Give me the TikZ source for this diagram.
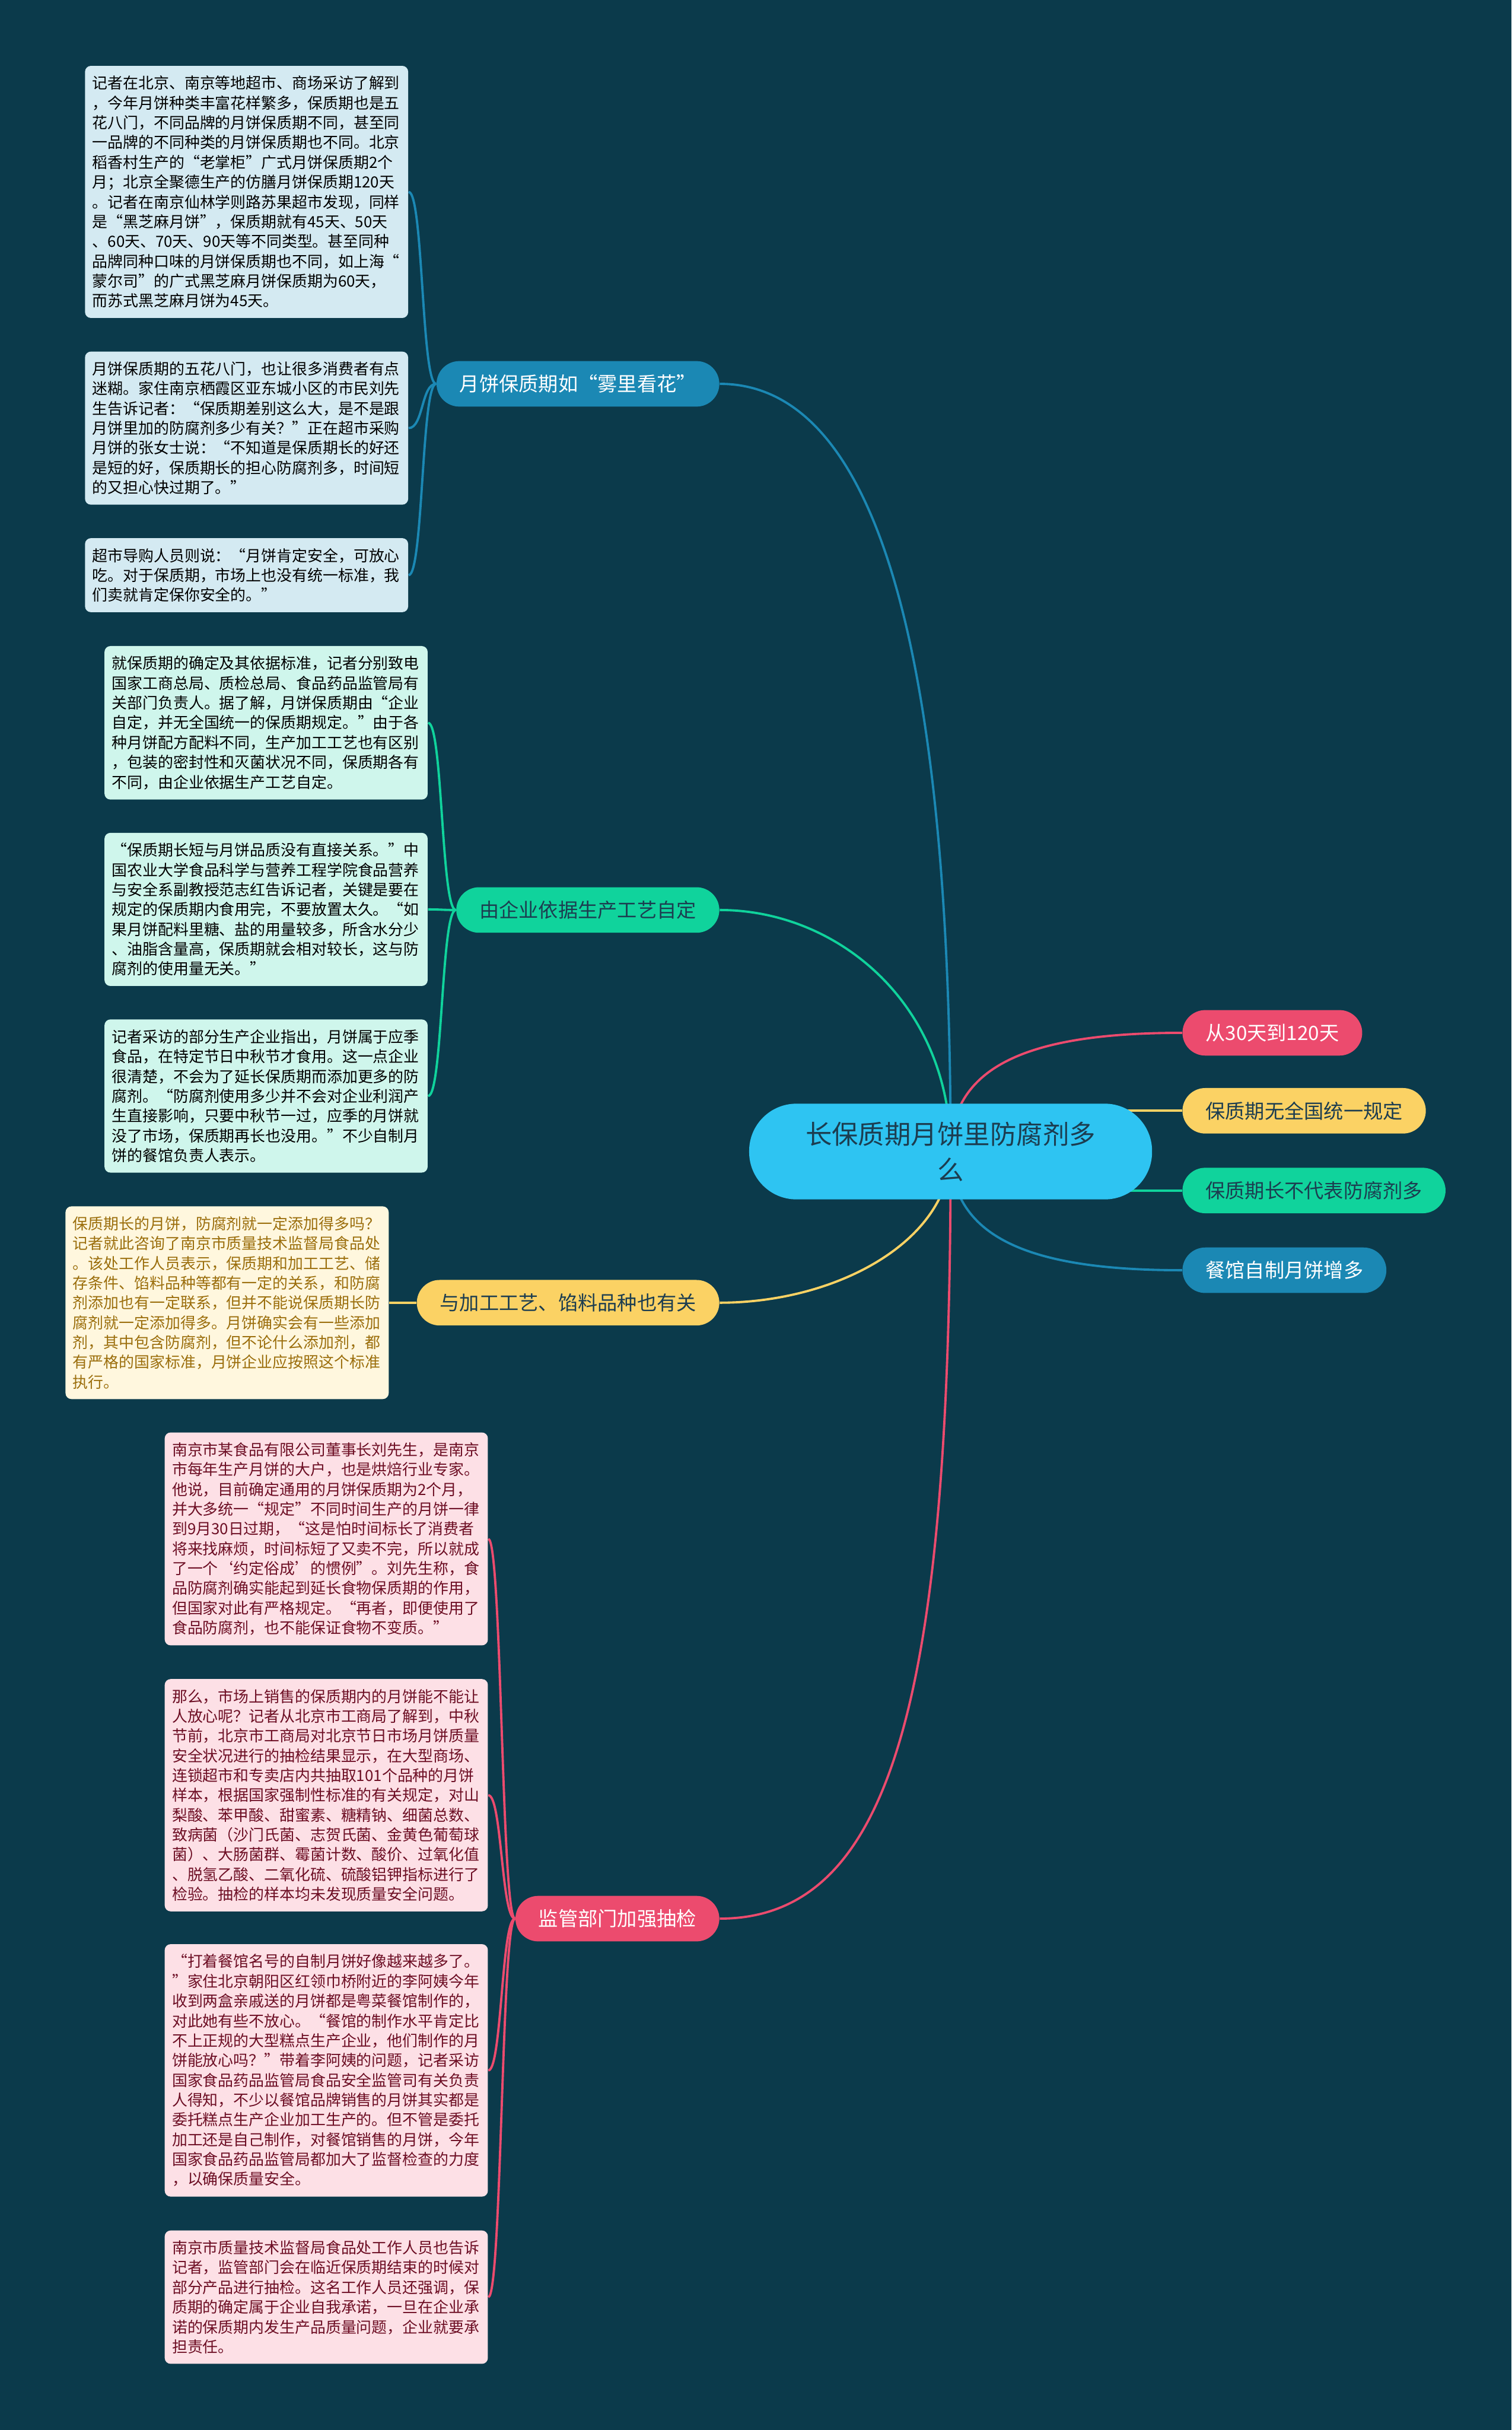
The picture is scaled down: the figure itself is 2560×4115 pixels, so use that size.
\documentclass[tikz,border=0pt]{standalone}
\usepackage{fontspec}
\setmainfont{Noto Sans CJK SC}
\usetikzlibrary{backgrounds}

\definecolor{fond}{HTML}{0B3A4B}
\definecolor{bleu}{HTML}{1B88B4}
\definecolor{vert}{HTML}{10D39C}
\definecolor{jaune}{HTML}{FBD264}
\definecolor{rose}{HTML}{EC4B6E}
\definecolor{ciel}{HTML}{2EC4F2}
\definecolor{encre}{HTML}{1C3D50}
\definecolor{bleuclair}{HTML}{D4EAF2}
\definecolor{vertclair}{HTML}{CFF6EC}
\definecolor{jauneclair}{HTML}{FFF7DE}
\definecolor{roseclair}{HTML}{FDE0E6}
\definecolor{brun}{HTML}{9B6E0C}
\definecolor{bordeaux}{HTML}{6D0E24}

\begin{document}
\begin{tikzpicture}[x=0.01cm, y=-0.01cm,
	racine/.style={fill=ciel, text=encre, rounded corners=0.8cm, minimum width=6.82cm, minimum height=1.62cm, align=center, font=\fontsize{12.7pt}{17pt}\selectfont},
	branche/.style={rounded corners=0.385cm, minimum height=0.77cm, inner xsep=0.39cm, inner ysep=0pt, font=\fontsize{9.5pt}{11pt}\selectfont},
	texte/.style={anchor=east, rounded corners=0.1cm, text width=5.22cm, align=left, inner xsep=0.125cm, inner ysep=0.17cm, font=\fontsize{7.4pt}{9.53pt}\selectfont},
	lien/.style={line width=1.1pt}]
	\node[racine] (racine) at (1610,1950) {长保质期月饼里防腐剂多\\么};
	%branches
	\node[branche, anchor=east, fill=bleu, text=white] (g1) at (1219,650) {月饼保质期如“雾里看花”};
	\node[branche, anchor=east, fill=vert, text=encre] (g2) at (1219,1541) {由企业依据生产工艺自定};
	\node[branche, anchor=east, fill=jaune, text=encre] (g3) at (1219,2206) {与加工工艺、馅料品种也有关};
	\node[branche, anchor=east, fill=rose, text=white] (g4) at (1219,3249) {监管部门加强抽检};
	\node[branche, anchor=west, fill=rose, text=white] (d1) at (2002,1749) {从30天到120天};
	\node[branche, anchor=west, fill=jaune, text=encre] (d2) at (2002,1881) {保质期无全国统一规定};
	\node[branche, anchor=west, fill=vert, text=encre] (d3) at (2002,2016) {保质期长不代表防腐剂多};
	\node[branche, anchor=west, fill=bleu, text=white] (d4) at (2002,2151) {餐馆自制月饼增多};
	%textes
	\node[texte, fill=bleuclair] (g1a) at (692,325) {记者在北京、南京等地超市、商场采访了解到\\
	，今年月饼种类丰富花样繁多，保质期也是五\\
	花八门，不同品牌的月饼保质期不同，甚至同\\
	一品牌的不同种类的月饼保质期也不同。北京\\
	稻香村生产的“老掌柜”广式月饼保质期2个\\
	月；北京全聚德生产的仿膳月饼保质期120天\\
	。记者在南京仙林学则路苏果超市发现，同样\\
	是“黑芝麻月饼”，保质期就有45天、50天\\
	、60天、70天、90天等不同类型。甚至同种\\
	品牌同种口味的月饼保质期也不同，如上海“\\
	蒙尔司”的广式黑芝麻月饼保质期为60天，\\
	而苏式黑芝麻月饼为45天。};
	\node[texte, fill=bleuclair] (g1b) at (692,725) {月饼保质期的五花八门，也让很多消费者有点\\
	迷糊。家住南京栖霞区亚东城小区的市民刘先\\
	生告诉记者：“保质期差别这么大，是不是跟\\
	月饼里加的防腐剂多少有关？”正在超市采购\\
	月饼的张女士说：“不知道是保质期长的好还\\
	是短的好，保质期长的担心防腐剂多，时间短\\
	的又担心快过期了。”};
	\node[texte, fill=bleuclair] (g1c) at (692,974) {超市导购人员则说：“月饼肯定安全，可放心\\
	吃。对于保质期，市场上也没有统一标准，我\\
	们卖就肯定保你安全的。”};
	\node[texte, fill=vertclair] (g2a) at (725,1224) {就保质期的确定及其依据标准，记者分别致电\\
	国家工商总局、质检总局、食品药品监管局有\\
	关部门负责人。据了解，月饼保质期由“企业\\
	自定，并无全国统一的保质期规定。”由于各\\
	种月饼配方配料不同，生产加工工艺也有区别\\
	，包装的密封性和灭菌状况不同，保质期各有\\
	不同，由企业依据生产工艺自定。};
	\node[texte, fill=vertclair] (g2b) at (725,1540) {“保质期长短与月饼品质没有直接关系。”中\\
	国农业大学食品科学与营养工程学院食品营养\\
	与安全系副教授范志红告诉记者，关键是要在\\
	规定的保质期内食用完，不要放置太久。“如\\
	果月饼配料里糖、盐的用量较多，所含水分少\\
	、油脂含量高，保质期就会相对较长，这与防\\
	腐剂的使用量无关。”};
	\node[texte, fill=vertclair] (g2c) at (725,1856) {记者采访的部分生产企业指出，月饼属于应季\\
	食品，在特定节日中秋节才食用。这一点企业\\
	很清楚，不会为了延长保质期而添加更多的防\\
	腐剂。“防腐剂使用多少并不会对企业利润产\\
	生直接影响，只要中秋节一过，应季的月饼就\\
	没了市场，保质期再长也没用。”不少自制月\\
	饼的餐馆负责人表示。};
	\node[texte, fill=jauneclair, text=brun] (g3a) at (659,2206) {保质期长的月饼，防腐剂就一定添加得多吗？\\
	记者就此咨询了南京市质量技术监督局食品处\\
	。该处工作人员表示，保质期和加工工艺、储\\
	存条件、馅料品种等都有一定的关系，和防腐\\
	剂添加也有一定联系，但并不能说保质期长防\\
	腐剂就一定添加得多。月饼确实会有一些添加\\
	剂，其中包含防腐剂，但不论什么添加剂，都\\
	有严格的国家标准，月饼企业应按照这个标准\\
	执行。};
	\node[texte, fill=roseclair, text=bordeaux] (g4a) at (827,2606) {南京市某食品有限公司董事长刘先生，是南京\\
	市每年生产月饼的大户，也是烘焙行业专家。\\
	他说，目前确定通用的月饼保质期为2个月，\\
	并大多统一“规定”不同时间生产的月饼一律\\
	到9月30日过期，“这是怕时间标长了消费者\\
	将来找麻烦，时间标短了又卖不完，所以就成\\
	了一个‘约定俗成’的惯例”。刘先生称，食\\
	品防腐剂确实能起到延长食物保质期的作用，\\
	但国家对此有严格规定。“再者，即便使用了\\
	食品防腐剂，也不能保证食物不变质。”};
	\node[texte, fill=roseclair, text=bordeaux] (g4b) at (827,3040) {那么，市场上销售的保质期内的月饼能不能让\\
	人放心呢？记者从北京市工商局了解到，中秋\\
	节前，北京市工商局对北京节日市场月饼质量\\
	安全状况进行的抽检结果显示，在大型商场、\\
	连锁超市和专卖店内共抽取101个品种的月饼\\
	样本，根据国家强制性标准的有关规定，对山\\
	梨酸、苯甲酸、甜蜜素、糖精钠、细菌总数、\\
	致病菌（沙门氏菌、志贺氏菌、金黄色葡萄球\\
	菌）、大肠菌群、霉菌计数、酸价、过氧化值\\
	、脱氢乙酸、二氧化硫、硫酸铝钾指标进行了\\
	检验。抽检的样本均未发现质量安全问题。};
	\node[texte, fill=roseclair, text=bordeaux] (g4c) at (827,3506) {“打着餐馆名号的自制月饼好像越来越多了。\\
	”家住北京朝阳区红领巾桥附近的李阿姨今年\\
	收到两盒亲戚送的月饼都是粤菜餐馆制作的，\\
	对此她有些不放心。“餐馆的制作水平肯定比\\
	不上正规的大型糕点生产企业，他们制作的月\\
	饼能放心吗？”带着李阿姨的问题，记者采访\\
	国家食品药品监管局食品安全监管司有关负责\\
	人得知，不少以餐馆品牌销售的月饼其实都是\\
	委托糕点生产企业加工生产的。但不管是委托\\
	加工还是自己制作，对餐馆销售的月饼，今年\\
	国家食品药品监管局都加大了监督检查的力度\\
	，以确保质量安全。};
	\node[texte, fill=roseclair, text=bordeaux] (g4d) at (827,3890) {南京市质量技术监督局食品处工作人员也告诉\\
	记者，监管部门会在临近保质期结束的时候对\\
	部分产品进行抽检。这名工作人员还强调，保\\
	质期的确定属于企业自我承诺，一旦在企业承\\
	诺的保质期内发生产品质量问题，企业就要承\\
	担责任。};
	%liens
	\begin{pgfonlayer}{background}
		\fill[fond] (0,0) rectangle (2560,4115);
		\draw[lien, bleu] (g1.east) .. controls +(250,0) and +(0,-900) .. (racine.center);
		\draw[lien, vert] (g2.east) .. controls +(200,0) and +(0,-250) .. (racine.center);
		\draw[lien, jaune] (g3.east) .. controls +(200,0) and +(0,150) .. (racine.center);
		\draw[lien, rose] (g4.east) .. controls +(300,0) and +(0,900) .. (racine.center);
		\draw[lien, rose] (racine.center) .. controls +(0,-150) and +(-250,0) .. (d1.west);
		\draw[lien, jaune] (racine.center |- d2.west) -- (d2.west);
		\draw[lien, vert] (racine.center |- d3.west) -- (d3.west);
		\draw[lien, bleu] (racine.center) .. controls +(0,150) and +(-250,0) .. (d4.west);
		\foreach \t in {g1a,g1b,g1c}
			\draw[lien, bleu] (g1.west) .. controls +(-25,0) and +(25,0) .. (\t.east);
		\foreach \t in {g2a,g2b,g2c}
			\draw[lien, vert] (g2.west) .. controls +(-25,0) and +(25,0) .. (\t.east);
		\draw[lien, jaune] (g3.west) -- (g3a.east);
		\foreach \t in {g4a,g4b,g4c,g4d}
			\draw[lien, rose] (g4.west) .. controls +(-23,0) and +(23,0) .. (\t.east);
	\end{pgfonlayer}
\end{tikzpicture}
\end{document}
